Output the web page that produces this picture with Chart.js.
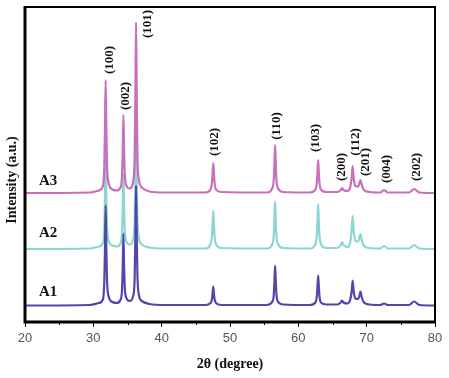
<!DOCTYPE html>
<html>
<head>
<meta charset="utf-8">
<script src="https://cdn.jsdelivr.net/npm/chart.js@4.4.1/dist/chart.umd.min.js"></script>
<style>
  body { margin: 0; background: #fff; }
  canvas { display: block; }
</style>
</head>
<body>
<canvas id="xrd" width="449" height="378"></canvas>
<script>
// diffractogrammes A1, A2, A3 (intensité relative, décalée ensuite)

// angles 2θ communs aux trois courbes
const angles = [20, 29.5, 30.8, 31.4, 31.6, 31.7, 31.8, 31.9, 32.0, 32.2,
  32.8, 33.4, 34.0, 34.2, 34.3, 34.4, 34.5, 34.6, 34.8, 35.3,
  35.85, 36.05, 36.15, 36.25, 36.35, 36.45, 36.65, 37.2, 38.2, 40.5,
  46.4, 47.15, 47.35, 47.45, 47.55, 47.65, 47.75, 47.95, 48.7, 55.4,
  56.2, 56.4, 56.5, 56.6, 56.7, 56.8, 57.0, 57.8, 61.7, 62.5,
  62.7, 62.8, 62.9, 63.0, 63.1, 63.3, 64.1, 65.7, 66.2, 66.4,
  66.6, 67.2, 67.6, 67.8, 67.95, 68.1, 68.35, 68.75, 68.95, 69.1,
  69.25, 69.6, 70.4, 72.0, 72.55, 73.1, 76.2, 76.95, 77.7, 80];

const intensA3 = [0, 0.5, 2.5, 7, 26, 62, 113, 66, 30, 11,
  3.5, 2.5, 6, 18, 42, 78, 44, 20, 8, 4.5,
  12, 38, 95, 171, 100, 40, 14, 5, 1.5, 0.5,
  0.5, 3.5, 10, 19, 30, 19, 10, 3.5, 1, 0.5,
  5, 13, 28, 48, 29, 13, 5, 1, 0.5, 3.5,
  10, 20, 33, 20, 10, 3.5, 1, 1, 3, 5,
  3, 2, 6, 15, 27, 15, 7, 6.5, 10, 13,
  9, 3, 1, 0.5, 3, 0.5, 0.5, 4, 0.5, 0];

const intensA2 = [0, 0.5, 2.5, 6, 21, 50, 90, 53, 24, 9,
  3.5, 2.5, 6, 17, 40, 75, 42, 19, 8, 4.5,
  10, 28, 65, 115, 68, 30, 11, 4, 1.5, 0.5,
  0.5, 5, 12, 24, 38, 24, 12, 5, 1, 0.5,
  5, 13, 28, 48, 29, 13, 5, 1, 0.5, 5,
  13, 27, 45, 27, 13, 5, 1, 1, 4, 7,
  4, 2, 7, 19, 33, 19, 8, 7.5, 11, 15,
  10, 3, 1, 0.5, 3, 0.5, 0.5, 4, 0.5, 0];

const intensA1 = [0, 0.5, 2.5, 6, 23, 54, 100, 58, 26, 10,
  3.5, 2.5, 6, 16, 38, 72, 40, 18, 8, 4.5,
  10, 28, 68, 120, 70, 31, 11, 4, 1.5, 0.5,
  0.5, 2.5, 6, 12, 19, 12, 6, 2.5, 0.5, 0.5,
  4, 10, 24, 40, 24, 11, 4, 1, 0.5, 3,
  9, 19, 30, 19, 9, 3, 1, 1, 3, 5,
  3, 2, 6, 14, 25, 14, 7, 6.5, 10, 14,
  9, 3, 1, 0.5, 2, 0.5, 0.5, 4, 0.5, 0];

const echantillons = ['A1', 'A2', 'A3'];
const decalages = [16.5, 73, 129];
const xTicks = [20, 30, 40, 50, 60, 70, 80];

// indexation des pics (texte vertical)
const plans = ['(100)', '(002)', '(101)', '(102)', '(110)', '(103)', '(200)', '(112)', '(201)', '(004)', '(202)'];

function serie(vals, dec) {
  return angles.map((a, i) => ({ x: a, y: vals[i] + dec }));
}

// textes : indices de Miller, noms des courbes, titres, cadre
const annotations = {
  id: 'annotations',
  afterDatasetsDraw(chart) {
    const ctx = chart.ctx;
    const area = chart.chartArea;
    const xs = chart.scales.x;
    ctx.save();
    ctx.fillStyle = '#111';

    // indices des pics
    const posPlans = [[110, 60], [126, 96], [148, 24], [215, 142], [277, 126], [316, 138],
      [342, 167], [356, 142], [366, 162], [387, 169], [417, 167]];
    ctx.font = 'bold 13px "Liberation Serif", "DejaVu Serif", serif';
    ctx.textAlign = 'center';
    ctx.textBaseline = 'middle';
    plans.forEach((p, i) => {
      ctx.save();
      ctx.translate(posPlans[i][0], posPlans[i][1]);
      ctx.rotate(-Math.PI / 2);
      ctx.fillText(p, 0, 0);
      ctx.restore();
    });

    // noms des échantillons
    ctx.font = 'bold 15px "Liberation Serif", serif';
    ctx.textAlign = 'left';
    ctx.textBaseline = 'alphabetic';
    const yNoms = [296, 237, 185];
    echantillons.forEach((n, i) => ctx.fillText(n, 39, yNoms[i]));

    // titre axe y
    ctx.save();
    ctx.font = 'bold 14px "Liberation Serif", serif';
    ctx.textAlign = 'center';
    ctx.textBaseline = 'middle';
    ctx.translate(12, 180);
    ctx.rotate(-Math.PI / 2);
    ctx.fillText('Intensity (a.u.)', 0, 0);
    ctx.restore();

    // titre axe x
    ctx.font = 'bold 14px "Liberation Serif", serif';
    ctx.textAlign = 'center';
    ctx.fillText('2θ (degree)', 230, 368);

    // petites graduations
    ctx.strokeStyle = '#000';
    ctx.lineWidth = 1;
    for (let v = 25; v < 80; v += 10) {
      const px = Math.round(xs.getPixelForValue(v)) + 0.5;
      ctx.beginPath();
      ctx.moveTo(px, area.bottom);
      ctx.lineTo(px, area.bottom + 3);
      ctx.stroke();
    }

    // cadre
    ctx.lineWidth = 2;
    ctx.beginPath();
    ctx.moveTo(area.left, area.top);
    ctx.lineTo(area.right, area.top);
    ctx.lineTo(area.right, area.bottom);
    ctx.stroke();
    ctx.lineWidth = 3;
    ctx.beginPath();
    ctx.moveTo(area.left, area.top - 1);
    ctx.lineTo(area.left, area.bottom);
    ctx.lineTo(area.right + 1, area.bottom);
    ctx.stroke();
    ctx.restore();
  }
};

new Chart(document.getElementById('xrd').getContext('2d'), {
  type: 'line',
  data: {
    datasets: [
      {
        label: 'A3',
        data: serie(intensA3, decalages[2]),
        borderColor: 'rgba(192, 92, 178, 0.88)',
        order: 0
      },
      {
        label: 'A1',
        data: serie(intensA1, decalages[0]),
        borderColor: 'rgba(72, 60, 165, 0.95)',
        order: 1
      },
      {
        label: 'A2',
        data: serie(intensA2, decalages[1]),
        borderColor: 'rgb(140, 214, 210)',
        order: 2
      }
    ]
  },
  options: {
    responsive: false,
    animation: false,
    layout: { padding: { left: 25, right: 14, top: 7, bottom: 0 } },
    elements: {
      line: { borderWidth: 2.2, cubicInterpolationMode: 'monotone', fill: false },
      point: { radius: 0 }
    },
    plugins: { legend: { display: false }, tooltip: { enabled: false } },
    scales: {
      x: {
        type: 'linear',
        min: 20,
        max: 80,
        afterBuildTicks: s => { s.ticks = xTicks.map(v => ({ value: v })); },
        afterFit: s => { s.height = 56; },
        ticks: {
          color: '#555',
          padding: 4,
          maxRotation: 0,
          font: { family: '"Liberation Sans", Arial, sans-serif', size: 13 }
        },
        grid: { drawOnChartArea: false, tickLength: 5, tickColor: '#000', tickWidth: 1 },
        border: { display: false }
      },
      y: { display: false, min: 0, max: 315 }
    }
  },
  plugins: [annotations]
});
</script>
</body>
</html>
